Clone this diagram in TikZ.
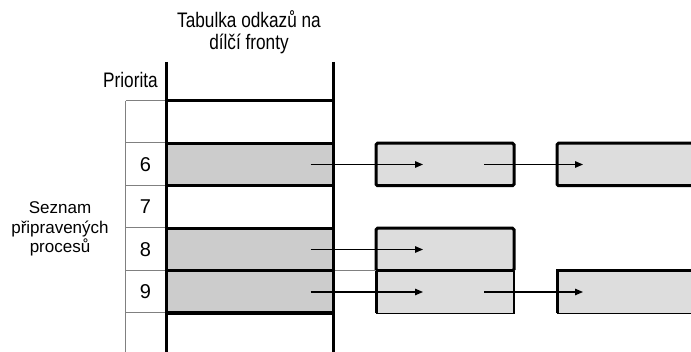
\documentclass[tikz,border=0pt]{standalone}
\usepackage{fontspec}
\setmainfont{Liberation Sans}
\newfontfamily\narrowfont[FakeStretch=0.82]{Liberation Sans}
\usetikzlibrary{arrows.meta,calc}
\definecolor{tabgray}{HTML}{CCCCCC}
\definecolor{qgray}{HTML}{DDDDDD}
\definecolor{gridgray}{HTML}{808080}
\tikzset{
  heavy/.style={line width=3pt},
  gridline/.style={line width=1pt,draw=gridgray},
  cell/.style={rectangle,minimum width=167pt,minimum height=42.5pt,inner sep=0pt,draw,heavy},
  prio/.style={inner sep=0pt,font=\fontsize{20}{22}\selectfont},
  qbox/.style={rectangle,minimum height=42.5pt,inner sep=0pt,outer sep=0pt,fill=qgray},
  qframe/.style={draw,heavy,rounded corners=1.5pt},
  link/.style={line width=1.3pt,-{Triangle[length=8pt,width=6.5pt]}},
}
\begin{document}
\begin{tikzpicture}[x=1pt,y=-1pt]
\useasboundingbox (0,0) rectangle (691,352);
\clip (0,0) rectangle (691,352);

% headings
\node[font=\narrowfont\fontsize{21}{22}\selectfont,align=center,anchor=base,inner sep=0pt]
  (title) at (249,50) {Tabulka odkazů na\\dílčí fronty};
\node[font=\narrowfont\fontsize{21}{22}\selectfont,anchor=base west,inner sep=0pt]
  (prioritylabel) at (103,88) {Priorita};
\node[font=\fontsize{17}{19.5}\selectfont,align=center,anchor=base,inner sep=0pt]
  (listlabel) at (60,253) {Seznam\\připravených\\procesů};

% priority column (thin grid)
\draw[gridline] (125.5,101) -- (125.5,360);
\foreach \y in {101,143,186,228,271,313}
  \draw[gridline] (125.5,\y) -- (166,\y);
\node[prio] (p6) at (145.5,164.5) {6};
\node[prio] (p7) at (145.5,207) {7};
\node[prio] (p8) at (145.5,249.5) {8};
\node[prio] (p9) at (145.5,292) {9};

% table of queue heads
\node[cell] (t0) at (249.5,122) {};
\node[cell,fill=tabgray] (t6) at (249.5,164.5) {};
\node[cell] (t7) at (249.5,207) {};
\node[cell,fill=tabgray] (t8) at (249.5,249.5) {};
\node[cell,fill=tabgray] (t9) at (249.5,292) {};
\node[cell,minimum height=50pt] (t10) at (249.5,338) {};
\draw[heavy] (166,62) -- (166,360);
\draw[heavy] (333,62) -- (333,360);

% queue of priority 6
\node[qbox,qframe,minimum width=138pt] (q6a) at (445,164.5) {};
\node[qbox,qframe,minimum width=150pt] (q6b) at (632,164.5) {};
% queue of priority 8
\node[qbox,qframe,minimum width=138pt] (q8a) at (445,249.5) {};
% queue of priority 9
\node[qbox,minimum width=138pt] (q9a) at (445,292) {};
\node[qbox,minimum width=150pt] (q9b) at (632,292) {};
\draw[line width=1.2pt] (q9a.north east) -- (q9a.south east) -- (q9a.south west);
\draw[line width=1.2pt] (q9b.south west) -- (q9b.south east);
\draw[heavy] (q9a.south west) -- (q9a.north west) -- (q9a.north east);
\draw[heavy] (q9b.south west) -- (q9b.north west) -- (q9b.north east);
\draw[gridline] (t9.east |- q9a.north west) -- (q9a.north west);

% links
\draw[link] ($(t6.east)+(-24,0)$) -- ($(q6a.west)+(47,0)$);
\draw[link] ($(q6a.east)+(-30,0)$) -- ($(q6b.west)+(26,0)$);
\draw[link] ($(t8.east)+(-24,0)$) -- ($(q8a.west)+(47,0)$);
\draw[link] ($(t9.east)+(-24,0)$) -- ($(q9a.west)+(47,0)$);
\draw[link] ($(q9a.east)+(-30,0)$) -- ($(q9b.west)+(26,0)$);
\end{tikzpicture}
\end{document}
